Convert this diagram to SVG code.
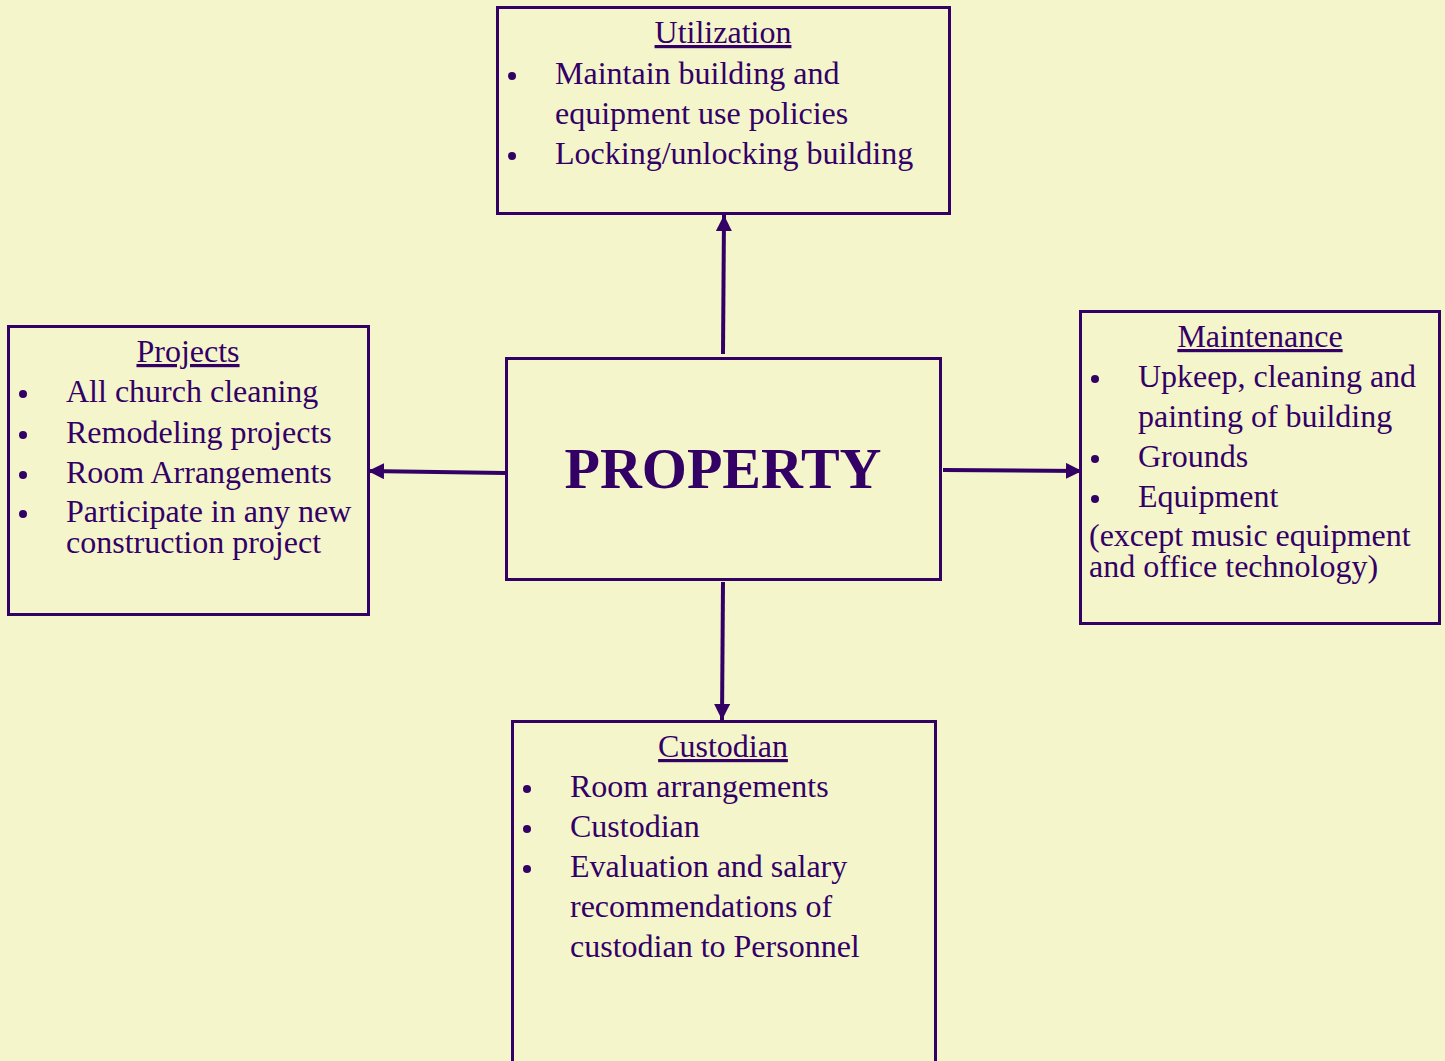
<svg xmlns="http://www.w3.org/2000/svg" width="1445" height="1061" viewBox="0 0 1445 1061">
<style>
.box{fill:#F5F5CC;stroke:#330066;stroke-width:3}
.t{font-family:"Liberation Serif","Times New Roman",serif;font-size:32px;fill:#330066}
.h{text-anchor:middle;text-decoration:underline}
.big{font-family:"Liberation Serif","Times New Roman",serif;font-size:58px;font-weight:bold;fill:#330066;text-anchor:middle}
.c{stroke:#330066;stroke-width:4;fill:none;marker-end:url(#ah)}
.b{fill:#330066}
</style>
<defs>
<marker id="ah" markerUnits="userSpaceOnUse" markerWidth="16" markerHeight="16" refX="16" refY="8" orient="auto" viewBox="0 0 16 16">
<path d="M0,0 L16,8 L0,16 z" fill="#330066"/>
</marker>
</defs>
<rect width="1445" height="1061" fill="#F5F5CC"/>
<g id="connectors">
<line class="c" x1="723" y1="354" x2="724" y2="215"/>
<line class="c" x1="505" y1="473" x2="368" y2="471"/>
<line class="c" x1="943" y1="470" x2="1082" y2="471"/>
<line class="c" x1="723" y1="582" x2="722" y2="720"/>
</g>
<g id="utilization">
<rect class="box" x="497.5" y="7.5" width="452" height="206"/>
<text class="t h" x="723" y="43">Utilization</text>
<circle class="b" cx="512" cy="76" r="4"/>
<text class="t" x="555" y="84">Maintain building and</text>
<text class="t" x="555" y="124">equipment use policies</text>
<circle class="b" cx="512" cy="156" r="4"/>
<text class="t" x="555" y="164">Locking/unlocking building</text>
</g>
<g id="projects">
<rect class="box" x="8.5" y="326.5" width="360" height="288"/>
<text class="t h" x="188" y="362">Projects</text>
<circle class="b" cx="23" cy="394" r="4"/>
<text class="t" x="66" y="402">All church cleaning</text>
<circle class="b" cx="23" cy="435" r="4"/>
<text class="t" x="66" y="443">Remodeling projects</text>
<circle class="b" cx="23" cy="475" r="4"/>
<text class="t" x="66" y="483">Room Arrangements</text>
<circle class="b" cx="23" cy="514" r="4"/>
<text class="t" x="66" y="522">Participate in any new</text>
<text class="t" x="66" y="553">construction project</text>
</g>
<g id="property">
<rect class="box" x="506.5" y="358.5" width="434" height="221"/>
<text class="big" x="723" y="488">PROPERTY</text>
</g>
<g id="maintenance">
<rect class="box" x="1080.5" y="311.5" width="359" height="312"/>
<text class="t h" x="1260" y="347">Maintenance</text>
<circle class="b" cx="1095" cy="379" r="4"/>
<text class="t" x="1138" y="387">Upkeep, cleaning and</text>
<text class="t" x="1138" y="427">painting of building</text>
<circle class="b" cx="1095" cy="459" r="4"/>
<text class="t" x="1138" y="467">Grounds</text>
<circle class="b" cx="1095" cy="499" r="4"/>
<text class="t" x="1138" y="507">Equipment</text>
<text class="t" x="1089" y="546">(except music equipment</text>
<text class="t" x="1089" y="577">and office technology)</text>
</g>
<g id="custodian">
<rect class="box" x="512.5" y="721.5" width="423" height="360"/>
<text class="t h" x="723" y="757">Custodian</text>
<circle class="b" cx="527" cy="789" r="4"/>
<text class="t" x="570" y="797">Room arrangements</text>
<circle class="b" cx="527" cy="829" r="4"/>
<text class="t" x="570" y="837">Custodian</text>
<circle class="b" cx="527" cy="869" r="4"/>
<text class="t" x="570" y="877">Evaluation and salary</text>
<text class="t" x="570" y="917">recommendations of</text>
<text class="t" x="570" y="957">custodian to Personnel</text>
</g>
</svg>
